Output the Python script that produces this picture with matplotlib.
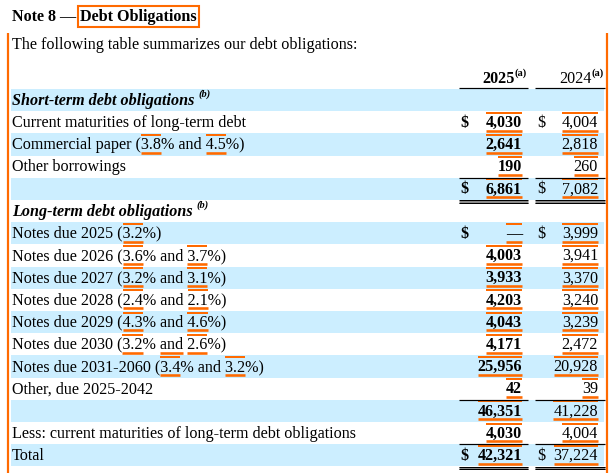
import matplotlib
matplotlib.use("Agg")
import matplotlib.pyplot as plt
from matplotlib.patches import Rectangle

# table content
title_lead = "Note 8 \u2014 "
title_tag = "Debt Obligations"
intro = "The following table summarizes our debt obligations:"
years = ["2025", "2024"]

row_labels = [
    "Short-term debt obligations",
    "Current maturities of long-term debt",
    "Commercial paper (3.8% and 4.5%)",
    "Other borrowings",
    "",
    "Long-term debt obligations",
    "Notes due 2025 (3.2%)",
    "Notes due 2026 (3.6% and 3.7%)",
    "Notes due 2027 (3.2% and 3.1%)",
    "Notes due 2028 (2.4% and 2.1%)",
    "Notes due 2029 (4.3% and 4.6%)",
    "Notes due 2030 (3.2% and 2.6%)",
    "Notes due 2031-2060 (3.4% and 3.2%)",
    "Other, due 2025-2042",
    "",
    "Less: current maturities of long-term debt obligations",
    "Total",
]
values_2025 = ["", "4,030", "2,641", "190", "6,861", "", "\u2014", "4,003", "3,933",
               "4,203", "4,043", "4,171", "25,956", "42", "46,351", "4,030", "42,321"]
values_2024 = ["", "4,004", "2,818", "260", "7,082", "", "3,999", "3,941", "3,370",
               "3,240", "3,239", "2,472", "20,928", "39", "41,228", "4,004", "37,224"]
dollar_rows = [1, 4, 6, 16]
section_rows = [0, 5]
# tagged pieces of the row labels (rate values)
label_tags = {
    2: ["3.8", "4.5"],
    6: ["3.2"],
    7: ["3.6", "3.7"],
    8: ["3.2", "3.1"],
    9: ["2.4", "2.1"],
    10: ["4.3", "4.6"],
    11: ["3.2", "and", "2.6"],
    12: ["3.4", "3.2"],
}

ORANGE = "#ff6a00"
BLUE = "#cceeff"
FONT = "Liberation Serif"
FS = 11.6

fig = plt.figure(figsize=(6.11, 4.73), dpi=100)
ax = fig.add_axes([0, 0, 1, 1])
ax.set_xlim(0, 611)
ax.set_ylim(473, 0)
ax.axis("off")
renderer = fig.canvas.get_renderer()


def width(s, **kw):
    t = ax.text(0, 0, s, fontfamily=FONT, **kw)
    w = t.get_window_extent(renderer).width
    t.remove()
    return w


def hline(x0, x1, y, lw, color):
    ax.plot([x0, x1], [y, y], color=color, lw=lw * 0.72, solid_capstyle="butt")


def tag_bars(x0, x1, top, bot, upper=True):
    if upper:
        hline(x0, x1, top + 1.5, 2, ORANGE)
    hline(x0, x1, bot - 2.8, 2.6, ORANGE)


# title
ax.text(12, 17, title_lead, fontfamily=FONT, fontsize=FS, fontweight="bold", va="center")
x_tag = 12 + width(title_lead, fontsize=FS, fontweight="bold")
ax.text(x_tag, 17, title_tag, fontfamily=FONT, fontsize=FS, fontweight="bold", va="center")
wt = width(title_tag, fontsize=FS, fontweight="bold")
ax.add_patch(Rectangle((x_tag - 2, 6), wt + 4, 21, fill=False, ec=ORANGE, lw=1.5))

# side markers
hline(0, 0, 0, 0, "white")
ax.plot([8, 8], [33, 473], color=ORANGE, lw=2.2 * 0.72, solid_capstyle="butt")
ax.plot([607, 607], [33, 473], color=ORANGE, lw=2.2 * 0.72, solid_capstyle="butt")

ax.text(12, 45, intro, fontfamily=FONT, fontsize=FS, va="center")

# column geometry
c1_l, c1_r, c1_num, c1_dol = 459, 528, 522, 460
c2_l, c2_r, c2_num, c2_dol = 535, 605, 598, 537

# header
sup_fs = 7.5
for yr, right, bold in [(years[0], 527, True), (years[1], 604, False)]:
    wsup = width("(a)", fontsize=sup_fs, fontweight="bold")
    ax.text(right, 73, "(a)", fontfamily=FONT, fontsize=sup_fs, fontweight="bold",
            ha="right", va="center")
    ax.text(right - wsup, 79, yr, fontfamily=FONT, fontsize=FS,
            fontweight="bold" if bold else "normal", ha="right", va="center")
hline(c1_l, c1_r, 88, 1.2, "black")
hline(c2_l, c2_r, 88, 1.2, "black")

top0, rh = 89, 22.2
for i, lab in enumerate(row_labels):
    top = top0 + i * rh
    bot = top + rh
    yc = top + rh / 2 + 0.5
    if i % 2 == 0:
        ax.add_patch(Rectangle((11, top), 593, rh, color=BLUE, lw=0))
    if i in section_rows:
        ax.text(12, yc, lab, fontfamily=FONT, fontsize=FS, fontweight="bold",
                style="italic", va="center")
        w = width(lab, fontsize=FS, fontweight="bold", style="italic")
        ax.text(12 + w + 4, yc - 6, "(b)", fontfamily=FONT, fontsize=sup_fs,
                fontweight="bold", style="italic", va="center")
    elif lab:
        ax.text(12, yc, lab, fontfamily=FONT, fontsize=FS, va="center")
        start = 0
        for k, tg in enumerate(label_tags.get(i, [])):
            idx = lab.index(tg, start)
            start = idx + len(tg)
            xa = 12 + width(lab[:idx], fontsize=FS)
            xb = 12 + width(lab[:idx + len(tg)], fontsize=FS)
            tag_bars(xa, xb, top, bot, upper=(tg != "and"))

    if i in dollar_rows:
        ax.text(c1_dol, yc, "$", fontfamily=FONT, fontsize=FS, fontweight="bold", va="center")
        ax.text(c2_dol, yc, "$", fontfamily=FONT, fontsize=FS, va="center")
    v1, v2 = values_2025[i], values_2024[i]
    if v1:
        ax.text(c1_num, yc, v1, fontfamily=FONT, fontsize=FS, fontweight="bold",
                ha="right", va="center")
        w1 = width(v1, fontsize=FS, fontweight="bold")
        tag_bars(c1_num - w1, c1_num, top, bot)
    if v2:
        ax.text(c2_num, yc, v2, fontfamily=FONT, fontsize=FS, ha="right", va="center")
        w2 = width(v2, fontsize=FS)
        tag_bars(c2_num - w2, c2_num, top, bot)

# rules on total rows
def rule_above(i):
    y = top0 + i * rh
    hline(c1_l, c1_r, y, 1.2, "black")
    hline(c2_l, c2_r, y, 1.2, "black")


def double_below(i):
    y = top0 + (i + 1) * rh
    for x0, x1 in [(c1_l, c1_r), (c2_l, c2_r)]:
        hline(x0, x1, y + 1.5, 3, "#888888")
        hline(x0, x1, y + 0.3, 1, "black")
        hline(x0, x1, y + 2.7, 1, "black")


rule_above(4)
double_below(4)
rule_above(14)
rule_above(16)
double_below(16)

fig.savefig("out.png", dpi=100)
